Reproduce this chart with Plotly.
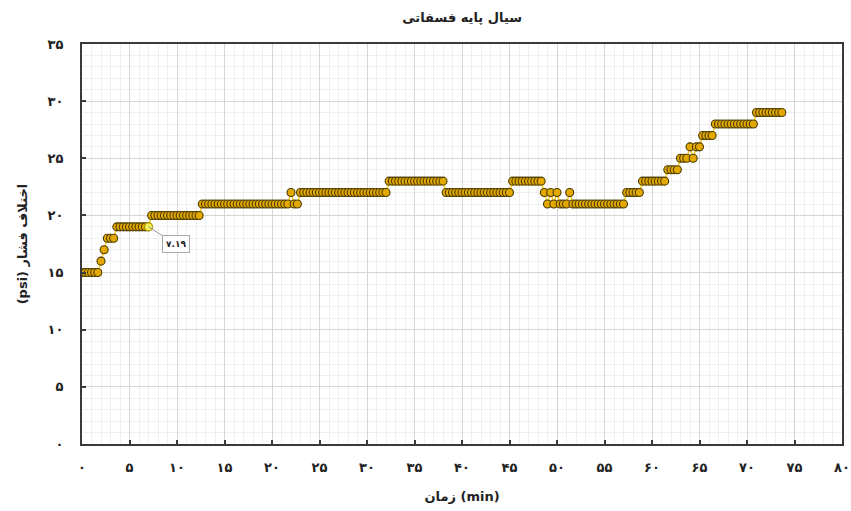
import plotly.graph_objects as go

# Sample times (seconds) and pressure difference (psi)
time_s = [
    0, 20, 40, 60, 80, 100, 120, 140, 160, 180, 200, 220, 240, 260, 280,
    300, 320, 340, 360, 380, 400, 420, 440, 460, 480, 500, 520, 540, 560, 580,
    600, 620, 640, 660, 680, 700, 720, 740, 760, 780, 800, 820, 840, 860, 880,
    900, 920, 940, 960, 980, 1000, 1020, 1040, 1060, 1080, 1100, 1120, 1140, 1160, 1180,
    1200, 1220, 1240, 1260, 1280, 1300, 1320, 1340, 1360, 1380, 1400, 1420, 1440, 1460, 1480,
    1500, 1520, 1540, 1560, 1580, 1600, 1620, 1640, 1660, 1680, 1700, 1720, 1740, 1760, 1780,
    1800, 1820, 1840, 1860, 1880, 1900, 1920, 1940, 1960, 1980, 2000, 2020, 2040, 2060, 2080,
    2100, 2120, 2140, 2160, 2180, 2200, 2220, 2240, 2260, 2280, 2300, 2320, 2340, 2360, 2380,
    2400, 2420, 2440, 2460, 2480, 2500, 2520, 2540, 2560, 2580, 2600, 2620, 2640, 2660, 2680,
    2700, 2720, 2740, 2760, 2780, 2800, 2820, 2840, 2860, 2880, 2900, 2920, 2940, 2960, 2980,
    3000, 3020, 3040, 3060, 3080, 3100, 3120, 3140, 3160, 3180, 3200, 3220, 3240, 3260, 3280,
    3300, 3320, 3340, 3360, 3380, 3400, 3420, 3440, 3460, 3480, 3500, 3520, 3540, 3560, 3580,
    3600, 3620, 3640, 3660, 3680, 3700, 3720, 3740, 3760, 3780, 3800, 3820, 3840, 3860, 3880,
    3900, 3920, 3940, 3960, 3980, 4000, 4020, 4040, 4060, 4080, 4100, 4120, 4140, 4160, 4180,
    4200, 4220, 4240, 4260, 4280, 4300, 4320, 4340, 4360, 4380, 4400, 4420,
]
pressure_psi = [
    15, 15, 15, 15, 15, 15, 16, 17, 18, 18, 18, 19, 19, 19, 19,
    19, 19, 19, 19, 19, 19, 19, 20, 20, 20, 20, 20, 20, 20, 20,
    20, 20, 20, 20, 20, 20, 20, 20, 21, 21, 21, 21, 21, 21, 21,
    21, 21, 21, 21, 21, 21, 21, 21, 21, 21, 21, 21, 21, 21, 21,
    21, 21, 21, 21, 21, 21, 22, 21, 21, 22, 22, 22, 22, 22, 22,
    22, 22, 22, 22, 22, 22, 22, 22, 22, 22, 22, 22, 22, 22, 22,
    22, 22, 22, 22, 22, 22, 22, 23, 23, 23, 23, 23, 23, 23, 23,
    23, 23, 23, 23, 23, 23, 23, 23, 23, 23, 22, 22, 22, 22, 22,
    22, 22, 22, 22, 22, 22, 22, 22, 22, 22, 22, 22, 22, 22, 22,
    22, 23, 23, 23, 23, 23, 23, 23, 23, 23, 23, 22, 21, 22, 21,
    22, 21, 21, 21, 22, 21, 21, 21, 21, 21, 21, 21, 21, 21, 21,
    21, 21, 21, 21, 21, 21, 21, 22, 22, 22, 22, 22, 23, 23, 23,
    23, 23, 23, 23, 23, 24, 24, 24, 24, 25, 25, 25, 26, 25, 26,
    26, 27, 27, 27, 27, 28, 28, 28, 28, 28, 28, 28, 28, 28, 28,
    28, 28, 28, 29, 29, 29, 29, 29, 29, 29, 29, 29,
]

x_tick_vals = [0, 5, 10, 15, 20, 25, 30, 35, 40, 45, 50, 55, 60, 65, 70, 75, 80]
x_tick_text = ["۰", "۵", "۱۰", "۱۵", "۲۰", "۲۵", "۳۰", "۳۵", "۴۰", "۴۵",
               "۵۰", "۵۵", "۶۰", "۶۵", "۷۰", "۷۵", "۸۰"]
y_tick_vals = [0, 5, 10, 15, 20, 25, 30, 35]
y_tick_text = ["۰", "۵", "۱۰", "۱۵", "۲۰", "۲۵", "۳۰", "۳۵"]

title_text = "سیال پایه فسفاتی"
x_title = "زمان (min)"
y_title = "(psi) اختلاف فشار"
highlight_index = 21
highlight_label = "۷.۱۹"

time_min = [s / 60 for s in time_s]

FONT = "DejaVu Sans"

fig = go.Figure()
fig.add_trace(go.Scatter(
    x=time_min, y=pressure_psi, mode="lines+markers",
    line=dict(color="#FFD21F", width=1.5),
    marker=dict(size=8, color="#E3A900", line=dict(color="#4A3A00", width=1.1)),
    showlegend=False, hoverinfo="x+y",
))
fig.add_trace(go.Scatter(
    x=[time_min[highlight_index]], y=[pressure_psi[highlight_index]],
    mode="markers",
    marker=dict(size=8, color="#F4F25A", line=dict(color="#B8A800", width=1)),
    showlegend=False, hoverinfo="skip",
))

fig.add_annotation(
    x=time_min[highlight_index], y=pressure_psi[highlight_index],
    text="<b>" + highlight_label + "</b>", showarrow=True, arrowhead=0,
    arrowcolor="#9a9a9a", arrowwidth=1, ax=27, ay=17,
    bgcolor="white", bordercolor="#a8a8a8", borderwidth=1, borderpad=3,
    font=dict(family=FONT, size=9, color="#222"),
)

axis_common = dict(
    showline=True, linecolor="#3a3a3a", mirror=True,
    ticks="inside", ticklen=4, tickwidth=1.5, tickcolor="#3a3a3a",
    showgrid=True, gridcolor="#d6d6d6", gridwidth=1,
    zeroline=False, tickmode="array", automargin=False,
    ticklabeloverflow="allow",
    tickfont=dict(family=FONT, size=13, color="#222"),
)

fig.update_xaxes(
    **axis_common, linewidth=1.5, range=[0, 80], tickvals=x_tick_vals,
    ticktext=["<b>" + t + "</b>" for t in x_tick_text],
    ticklabelstandoff=11,
    minor=dict(tickmode="linear", tick0=0, dtick=1, showgrid=True,
               gridcolor="#efefef", ticks=""),
    title=dict(text="<b>" + x_title + "</b>", standoff=18,
               font=dict(family=FONT, size=13, color="#222")),
)
fig.update_yaxes(
    **axis_common, linewidth=2, range=[0, 35], tickvals=y_tick_vals,
    ticktext=["<b>" + t + "</b>" for t in y_tick_text],
    ticklabelstandoff=14,
    minor=dict(tickmode="linear", tick0=0, dtick=1, showgrid=True,
               gridcolor="#efefef", ticks=""),
    title=dict(text="<b>" + y_title + "</b>", standoff=17,
               font=dict(family=FONT, size=13, color="#222")),
)

fig.update_layout(
    width=851, height=511,
    margin=dict(l=82, r=9, t=44, b=67, autoexpand=False),
    paper_bgcolor="white", plot_bgcolor="white",
    title=dict(text="<b>" + title_text + "</b>", x=0.543, xanchor="center",
               y=0.965, yanchor="middle",
               font=dict(family=FONT, size=13, color="#222")),
    font=dict(family=FONT),
)

# remove the page's default body margin so the figure sits at the window's corner
fig.write_html(
    "out.html",
    config={"displayModeBar": False},
    post_script="document.body.style.margin='0';document.body.style.overflow='hidden';",
)
